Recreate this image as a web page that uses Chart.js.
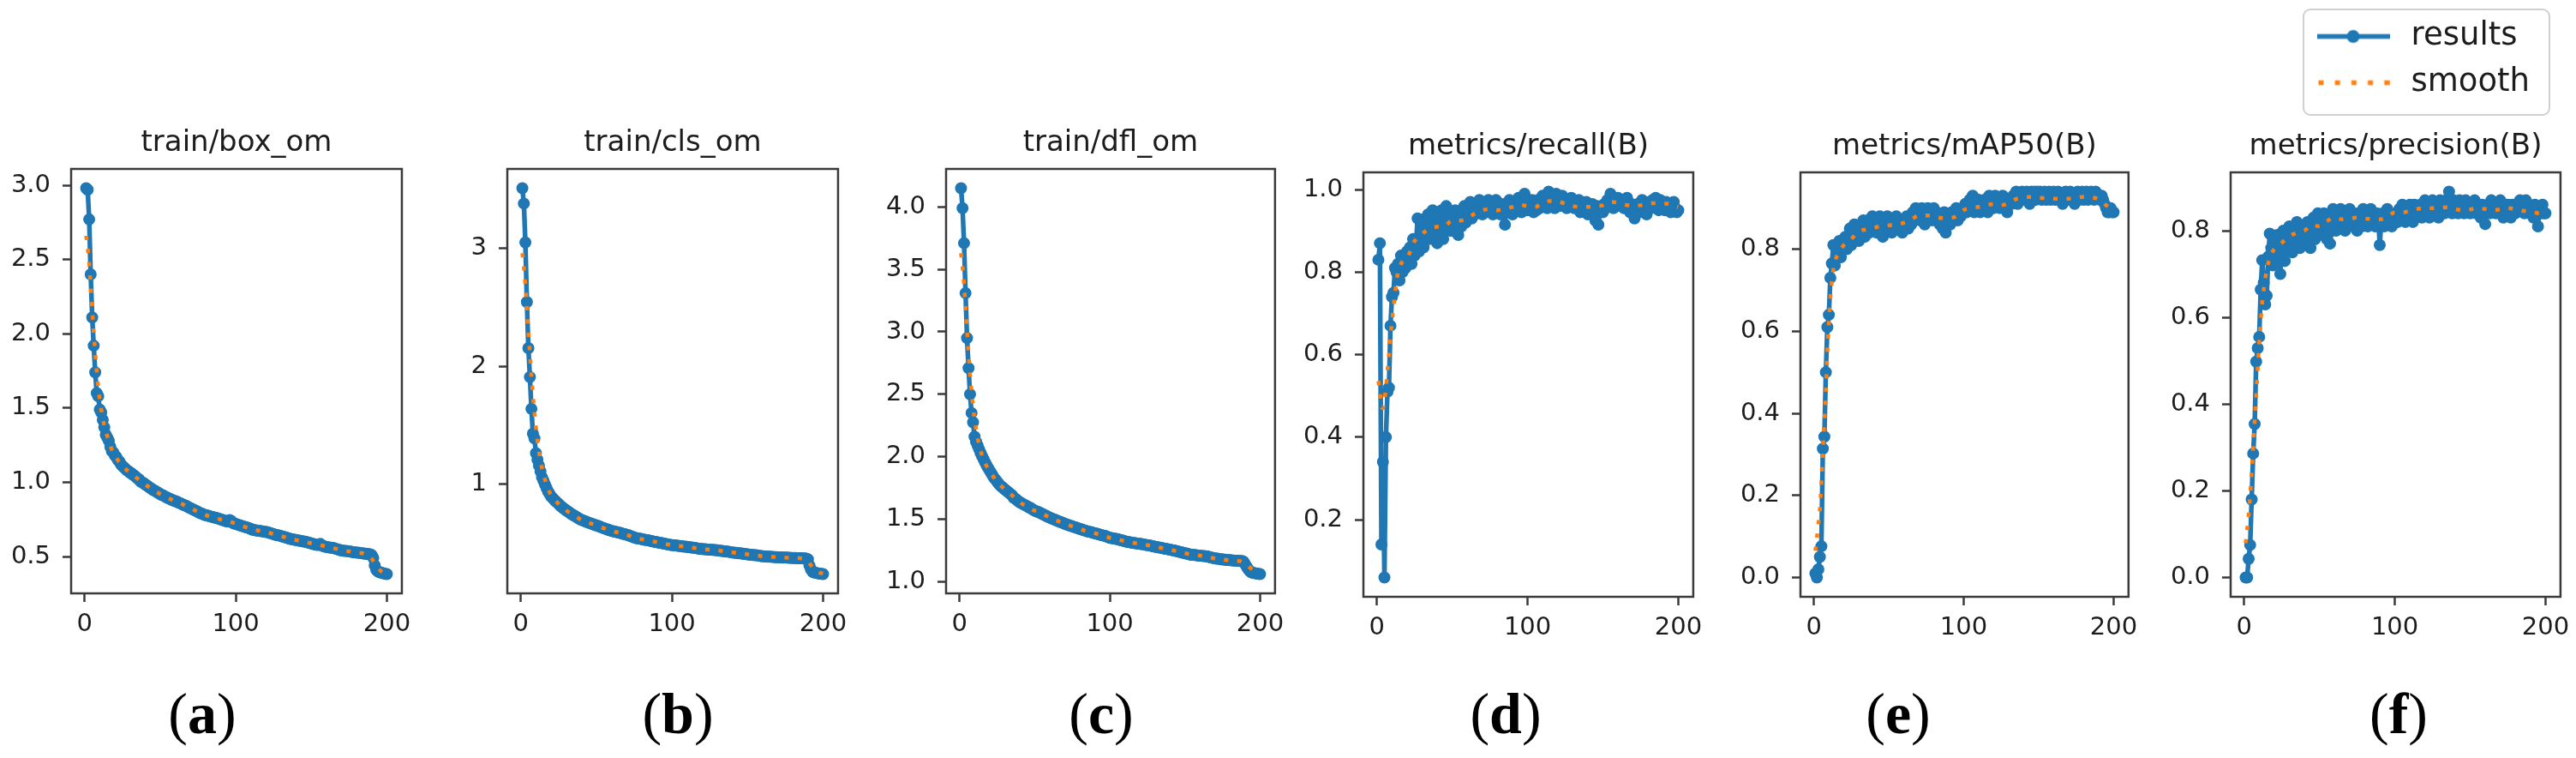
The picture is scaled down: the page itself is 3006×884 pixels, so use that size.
<!DOCTYPE html>
<html>
<head>
<meta charset="utf-8">
<script src="https://cdn.jsdelivr.net/npm/chart.js@4.4.1/dist/chart.umd.min.js"></script>
<style>
html,body{margin:0;padding:0;background:#ffffff;width:3006px;height:884px;overflow:hidden;position:relative;}
canvas{position:absolute;}
</style>
</head>
<body>
<script>
// ---------------- DATA ----------------
const epochs = Array.from({length: 200}, (_, i) => i + 1);
const smoothEpochs = [1,2,3,4,5,6,7,8,9,10,11,12,13,14,15,16,17,18,19,20,
  25,30,35,40,45,50,55,60,65,70,75,80,85,90,95,100,105,110,115,120,125,130,135,140,145,150,155,160,165,170,175,180,185,
  188,190,192,194,196,198,200];

const titles = ['train/box_om', 'train/cls_om', 'train/dfl_om', 'metrics/recall(B)', 'metrics/mAP50(B)', 'metrics/precision(B)'];
const panelLetters = ['a', 'b', 'c', 'd', 'e', 'f'];
const legendLabels = ['results', 'smooth'];

const xTicks = [0, 100, 200];
const boxTicks = [0.5, 1.0, 1.5, 2.0, 2.5, 3.0];
const clsTicks = [1, 2, 3];
const dflTicks = [1.0, 1.5, 2.0, 2.5, 3.0, 3.5, 4.0];
const recallTicks = [0.2, 0.4, 0.6, 0.8, 1.0];
const mapTicks = [0.0, 0.2, 0.4, 0.6, 0.8];
const precTicks = [0.0, 0.2, 0.4, 0.6, 0.8];

const boxOm = [
 2.98,2.97,2.77,2.40,2.11,1.92,1.74,1.60,1.58,1.49,
 1.47,1.42,1.37,1.32,1.30,1.28,1.24,1.21,1.20,1.18,
 1.17,1.15,1.14,1.12,1.11,1.10,1.09,1.08,1.075,1.065,
 1.06,1.05,1.045,1.035,1.025,1.02,1.005,1.0,0.995,0.985,
 0.98,0.972,0.965,0.958,0.951,0.945,0.94,0.933,0.928,0.92,
 0.915,0.911,0.905,0.90,0.894,0.89,0.886,0.88,0.877,0.873,
 0.87,0.864,0.86,0.856,0.85,0.845,0.842,0.836,0.83,0.826,
 0.82,0.816,0.81,0.806,0.80,0.795,0.79,0.787,0.782,0.779,
 0.776,0.774,0.77,0.768,0.765,0.763,0.76,0.757,0.754,0.75,
 0.747,0.744,0.74,0.737,0.735,0.745,0.74,0.726,0.722,0.72,
 0.716,0.713,0.71,0.706,0.703,0.70,0.697,0.694,0.69,0.686,
 0.681,0.679,0.677,0.675,0.673,0.672,0.67,0.669,0.667,0.666,
 0.663,0.66,0.657,0.654,0.651,0.648,0.645,0.643,0.641,0.638,
 0.635,0.632,0.629,0.626,0.622,0.619,0.617,0.615,0.613,0.611,
 0.609,0.607,0.605,0.603,0.601,0.60,0.597,0.594,0.591,0.588,
 0.585,0.582,0.58,0.578,0.578,0.585,0.575,0.57,0.567,0.565,
 0.563,0.561,0.56,0.558,0.556,0.553,0.55,0.547,0.544,0.541,
 0.539,0.538,0.538,0.536,0.535,0.533,0.531,0.529,0.528,0.527,
 0.526,0.525,0.523,0.521,0.52,0.519,0.518,0.516,0.515,0.51,
 0.49,0.44,0.41,0.40,0.395,0.392,0.389,0.386,0.384,0.382];

const clsOm = [
 3.51,3.38,3.05,2.545,2.155,1.91,1.64,1.43,1.39,1.265,
 1.21,1.16,1.11,1.06,1.03,1.0,0.97,0.94,0.92,0.898,
 0.885,0.87,0.858,0.846,0.835,0.82,0.81,0.80,0.79,0.78,
 0.772,0.764,0.752,0.745,0.738,0.73,0.722,0.714,0.706,0.70,
 0.695,0.69,0.685,0.68,0.675,0.67,0.666,0.662,0.656,0.652,
 0.648,0.643,0.638,0.633,0.628,0.624,0.62,0.614,0.61,0.606,
 0.603,0.60,0.597,0.593,0.59,0.588,0.583,0.58,0.577,0.573,
 0.57,0.565,0.56,0.555,0.55,0.546,0.543,0.541,0.539,0.536,
 0.533,0.531,0.529,0.527,0.524,0.521,0.518,0.515,0.512,0.51,
 0.507,0.505,0.503,0.50,0.498,0.495,0.492,0.49,0.487,0.485,
 0.484,0.483,0.482,0.48,0.478,0.476,0.474,0.473,0.472,0.471,
 0.469,0.467,0.465,0.463,0.461,0.459,0.457,0.455,0.453,0.452,
 0.451,0.45,0.449,0.448,0.447,0.446,0.445,0.444,0.443,0.442,
 0.44,0.438,0.436,0.434,0.432,0.431,0.43,0.428,0.426,0.424,
 0.422,0.42,0.419,0.417,0.416,0.415,0.413,0.411,0.409,0.407,
 0.405,0.403,0.402,0.401,0.40,0.399,0.397,0.395,0.393,0.391,
 0.39,0.389,0.388,0.388,0.387,0.386,0.385,0.384,0.383,0.382,
 0.381,0.381,0.38,0.38,0.379,0.379,0.378,0.378,0.377,0.377,
 0.376,0.376,0.375,0.375,0.374,0.374,0.373,0.372,0.371,0.365,
 0.313,0.28,0.26,0.255,0.25,0.248,0.246,0.244,0.242,0.24];

const dflOm = [
 4.15,3.99,3.71,3.31,2.95,2.71,2.50,2.35,2.275,2.16,
 2.12,2.09,2.06,2.03,2.005,1.98,1.955,1.93,1.91,1.89,
 1.87,1.85,1.83,1.816,1.80,1.785,1.77,1.76,1.75,1.74,
 1.73,1.72,1.71,1.70,1.69,1.67,1.665,1.655,1.645,1.635,
 1.63,1.622,1.615,1.61,1.603,1.596,1.59,1.583,1.575,1.568,
 1.562,1.56,1.555,1.548,1.542,1.536,1.53,1.524,1.518,1.512,
 1.507,1.502,1.497,1.492,1.487,1.482,1.477,1.473,1.468,1.463,
 1.458,1.454,1.45,1.446,1.442,1.438,1.434,1.43,1.426,1.422,
 1.418,1.414,1.41,1.406,1.402,1.40,1.397,1.394,1.39,1.387,
 1.384,1.381,1.378,1.373,1.37,1.368,1.365,1.36,1.355,1.35,
 1.348,1.347,1.345,1.342,1.339,1.336,1.333,1.33,1.327,1.323,
 1.32,1.317,1.315,1.313,1.311,1.309,1.307,1.305,1.303,1.302,
 1.30,1.298,1.296,1.294,1.292,1.29,1.288,1.284,1.281,1.279,
 1.277,1.275,1.273,1.27,1.268,1.265,1.263,1.26,1.258,1.256,
 1.253,1.25,1.248,1.245,1.242,1.239,1.236,1.233,1.23,1.227,
 1.224,1.221,1.218,1.215,1.215,1.213,1.212,1.21,1.208,1.207,
 1.206,1.205,1.204,1.202,1.2,1.197,1.194,1.191,1.188,1.185,
 1.184,1.183,1.181,1.179,1.177,1.176,1.174,1.173,1.172,1.171,
 1.17,1.169,1.168,1.167,1.167,1.166,1.165,1.164,1.16,1.14,
 1.12,1.10,1.085,1.075,1.07,1.068,1.066,1.064,1.062,1.06];

const recall = [
 0.83,0.87,0.14,0.34,0.06,0.40,0.51,0.52,0.67,0.74,
 0.75,0.81,0.80,0.82,0.78,0.84,0.80,0.83,0.81,0.85,
 0.82,0.86,0.82,0.88,0.84,0.87,0.93,0.85,0.92,0.90,
 0.86,0.93,0.89,0.94,0.88,0.91,0.95,0.90,0.92,0.87,
 0.93,0.89,0.95,0.88,0.92,0.96,0.91,0.94,0.90,0.93,
 0.91,0.95,0.92,0.89,0.94,0.91,0.93,0.96,0.92,0.94,
 0.94,0.97,0.93,0.95,0.94,0.96,0.95,0.975,0.95,0.94,
 0.965,0.945,0.96,0.975,0.95,0.965,0.94,0.96,0.975,0.945,
 0.96,0.94,0.965,0.95,0.915,0.96,0.945,0.975,0.95,0.94,
 0.965,0.95,0.96,0.98,0.955,0.945,0.97,0.99,0.96,0.95,
 0.97,0.955,0.975,0.945,0.96,0.95,0.975,0.955,0.97,0.985,
 0.96,0.975,0.955,0.995,0.97,0.96,0.98,0.955,0.99,0.97,
 0.96,0.975,0.985,0.96,0.97,0.955,0.975,0.96,0.98,0.965,
 0.955,0.97,0.96,0.975,0.945,0.96,0.965,0.955,0.97,0.94,
 0.96,0.945,0.965,0.95,0.925,0.96,0.915,0.95,0.96,0.945,
 0.965,0.955,0.975,0.96,0.99,0.97,0.955,0.975,0.96,0.98,
 0.97,0.96,0.975,0.955,0.965,0.98,0.96,0.945,0.965,0.955,
 0.93,0.955,0.965,0.945,0.96,0.975,0.95,0.965,0.94,0.96,
 0.97,0.955,0.975,0.96,0.98,0.965,0.95,0.975,0.96,0.965,
 0.95,0.97,0.96,0.965,0.945,0.955,0.97,0.955,0.945,0.95];

const mAP50 = [
 0.01,0.0,0.02,0.05,0.076,0.314,0.343,0.50,0.61,0.64,
 0.73,0.765,0.81,0.76,0.80,0.79,0.82,0.78,0.81,0.80,
 0.83,0.80,0.82,0.85,0.81,0.84,0.86,0.83,0.85,0.82,
 0.86,0.84,0.87,0.83,0.85,0.87,0.84,0.86,0.88,0.85,
 0.87,0.84,0.86,0.88,0.85,0.83,0.87,0.86,0.88,0.85,
 0.86,0.84,0.87,0.86,0.88,0.85,0.87,0.86,0.84,0.87,
 0.86,0.88,0.85,0.87,0.86,0.89,0.87,0.90,0.88,0.89,
 0.87,0.90,0.88,0.86,0.89,0.90,0.88,0.89,0.87,0.90,
 0.88,0.89,0.87,0.86,0.88,0.85,0.89,0.84,0.87,0.88,
 0.86,0.89,0.87,0.88,0.90,0.87,0.89,0.88,0.90,0.89,
 0.91,0.89,0.90,0.92,0.90,0.93,0.89,0.91,0.90,0.92,
 0.89,0.91,0.90,0.92,0.91,0.89,0.93,0.91,0.92,0.90,
 0.93,0.91,0.92,0.90,0.91,0.93,0.90,0.92,0.89,0.91,
 0.92,0.91,0.93,0.92,0.94,0.91,0.93,0.92,0.94,0.93,
 0.92,0.94,0.93,0.91,0.94,0.93,0.94,0.92,0.94,0.93,
 0.94,0.92,0.93,0.94,0.92,0.93,0.94,0.92,0.93,0.94,
 0.92,0.93,0.94,0.92,0.93,0.91,0.93,0.94,0.92,0.93,
 0.94,0.92,0.93,0.91,0.93,0.94,0.92,0.93,0.94,0.92,
 0.93,0.94,0.92,0.93,0.94,0.93,0.92,0.94,0.93,0.93,
 0.92,0.93,0.92,0.91,0.90,0.89,0.89,0.90,0.89,0.89];

const precision = [
 0.0,0.0,0.043,0.075,0.18,0.286,0.354,0.498,0.529,0.555,
 0.664,0.732,0.68,0.63,0.65,0.74,0.793,0.76,0.72,0.78,
 0.74,0.79,0.75,0.70,0.77,0.80,0.73,0.78,0.76,0.81,
 0.78,0.75,0.80,0.77,0.82,0.79,0.76,0.81,0.78,0.80,
 0.77,0.82,0.79,0.76,0.80,0.83,0.78,0.81,0.84,0.80,
 0.82,0.79,0.84,0.81,0.78,0.83,0.77,0.80,0.85,0.82,
 0.80,0.84,0.82,0.85,0.81,0.83,0.80,0.84,0.82,0.85,
 0.83,0.81,0.84,0.82,0.80,0.84,0.83,0.81,0.85,0.82,
 0.84,0.81,0.83,0.85,0.82,0.84,0.81,0.84,0.83,0.767,
 0.82,0.84,0.81,0.83,0.85,0.82,0.84,0.81,0.83,0.82,
 0.84,0.82,0.85,0.83,0.86,0.84,0.82,0.85,0.83,0.86,
 0.84,0.82,0.86,0.83,0.85,0.84,0.86,0.83,0.85,0.87,
 0.84,0.86,0.83,0.85,0.87,0.84,0.86,0.85,0.83,0.87,
 0.85,0.86,0.84,0.87,0.85,0.89,0.86,0.84,0.87,0.85,
 0.86,0.84,0.87,0.85,0.86,0.84,0.87,0.85,0.86,0.84,
 0.86,0.85,0.87,0.84,0.86,0.85,0.83,0.86,0.84,0.815,
 0.85,0.86,0.84,0.87,0.85,0.86,0.84,0.86,0.85,0.87,
 0.85,0.83,0.86,0.84,0.86,0.85,0.83,0.86,0.85,0.84,
 0.86,0.85,0.87,0.85,0.86,0.84,0.87,0.85,0.86,0.84,
 0.85,0.83,0.86,0.84,0.81,0.85,0.84,0.86,0.84,0.84];

// smooth curves, at smoothEpochs
const boxOmSmooth = [2.66,2.58,2.47,2.32,2.16,2.01,1.87,1.75,1.64,1.56,1.49,1.43,1.38,1.34,1.31,1.28,1.25,1.22,1.20,1.18,
 1.11,1.065,1.025,0.986,0.952,0.921,0.895,0.873,0.851,0.826,0.801,0.779,0.765,0.75,0.738,0.722,0.703,0.687,0.675,0.666,
 0.651,0.638,0.622,0.611,0.601,0.589,0.579,0.567,0.556,0.542,0.535,0.527,0.52,
 0.505,0.485,0.455,0.425,0.403,0.39,0.386];
const clsOmSmooth = [2.96,2.84,2.69,2.50,2.30,2.11,1.92,1.76,1.61,1.48,1.37,1.28,1.20,1.14,1.08,1.04,1.0,0.965,0.935,0.91,
 0.835,0.78,0.738,0.70,0.675,0.652,0.628,0.606,0.59,0.573,0.55,0.536,0.524,0.51,0.498,0.485,0.478,0.471,0.461,0.452,
 0.447,0.442,0.432,0.424,0.416,0.407,0.40,0.391,0.387,0.382,0.379,0.377,0.374,
 0.365,0.345,0.315,0.285,0.262,0.25,0.245];
const dflOmSmooth = [3.63,3.52,3.38,3.20,3.01,2.83,2.66,2.52,2.40,2.30,2.22,2.15,2.10,2.05,2.01,1.975,1.95,1.925,1.905,1.885,
 1.80,1.74,1.69,1.636,1.60,1.568,1.545,1.512,1.487,1.463,1.442,1.422,1.402,1.387,1.37,1.35,1.339,1.323,1.311,1.302,
 1.292,1.279,1.268,1.256,1.242,1.227,1.215,1.207,1.2,1.185,1.177,1.171,1.167,
 1.158,1.145,1.125,1.105,1.087,1.072,1.065];
const recallSmooth = [0.536,0.51,0.475,0.47,0.49,0.52,0.56,0.60,0.64,0.68,0.715,0.747,0.777,0.80,0.812,0.82,0.826,0.83,0.832,0.834,
 0.875,0.893,0.905,0.91,0.912,0.925,0.925,0.93,0.942,0.95,0.953,0.95,0.953,0.958,0.963,0.96,0.958,0.968,0.972,0.972,
 0.965,0.96,0.958,0.958,0.96,0.962,0.97,0.968,0.963,0.96,0.962,0.966,0.967,
 0.966,0.965,0.966,0.965,0.963,0.96,0.958];
const mAP50Smooth = [0.065,0.095,0.13,0.165,0.23,0.31,0.38,0.45,0.55,0.62,0.68,0.72,0.75,0.77,0.78,0.787,0.793,0.80,0.805,0.81,
 0.825,0.843,0.848,0.852,0.856,0.858,0.86,0.864,0.872,0.882,0.882,0.88,0.876,0.876,0.88,0.895,0.90,0.903,0.907,0.91,
 0.907,0.912,0.922,0.926,0.927,0.925,0.924,0.923,0.923,0.923,0.925,0.927,0.926,
 0.924,0.921,0.916,0.91,0.904,0.899,0.897];
const precisionSmooth = [0.079,0.11,0.145,0.19,0.245,0.30,0.36,0.42,0.48,0.54,0.59,0.635,0.665,0.69,0.71,0.725,0.735,0.745,0.752,0.758,
 0.772,0.787,0.795,0.80,0.813,0.81,0.822,0.83,0.826,0.828,0.83,0.828,0.827,0.826,0.832,0.842,0.842,0.846,0.85,0.852,
 0.852,0.853,0.854,0.85,0.847,0.849,0.852,0.85,0.847,0.849,0.852,0.85,0.846,
 0.845,0.843,0.842,0.841,0.84,0.84,0.84];

const resultsSeries = [boxOm, clsOm, dflOm, recall, mAP50, precision];
const smoothSeries = [boxOmSmooth, clsOmSmooth, dflOmSmooth, recallSmooth, mAP50Smooth, precisionSmooth];
const yTickSets = [boxTicks, clsTicks, dflTicks, recallTicks, mapTicks, precTicks];

// ---------------- LAYOUT (pixel geometry only) ----------------
const geom = [
  {L: 83,   T: 197, R: 469,  B: 692, lx: 236,  dec: 1},
  {L: 592,  T: 197, R: 978,  B: 692, lx: 791,  dec: 0},
  {L: 1104, T: 197, R: 1488, B: 692, lx: 1285, dec: 1},
  {L: 1591, T: 201, R: 1976, B: 696, lx: 1757, dec: 1},
  {L: 2101, T: 201, R: 2484, B: 696, lx: 2215, dec: 1},
  {L: 2603, T: 201, R: 2988, B: 696, lx: 2799, dec: 1}
];
const PAD_L = 80, PAD_R = 20, TOP_H = 75, BOT_H = 185;
const LABEL_BASELINE = 855;
const BLUE = '#1f77b4', ORANGE = '#ff7f0e';
const TEXT = '#1c1c1c', SPINE = '#3a3a3a';
const FONT = 'DejaVu Sans';

function makePanel(i) {
  const G = geom[i];
  const res = resultsSeries[i];
  const sm = smoothSeries[i];
  const W = (G.R - G.L) + PAD_L + PAD_R;
  const H = TOP_H + (G.B - G.T) + BOT_H;
  const cLeft = G.L - PAD_L, cTop = G.T - TOP_H;
  const cv = document.createElement('canvas');
  cv.width = W; cv.height = H;
  cv.style.left = cLeft + 'px'; cv.style.top = cTop + 'px';
  cv.style.width = W + 'px'; cv.style.height = H + 'px';
  document.body.appendChild(cv);

  const lo = Math.min(...res), hi = Math.max(...res), m = (hi - lo) * 0.05;
  const xlo = epochs[0], xhi = epochs[epochs.length - 1], mx = (xhi - xlo) * 0.05;
  const yt = yTickSets[i];
  const letter = panelLetters[i];

  const framePlugin = {
    id: 'frame',
    afterDraw(chart) {
      const a = chart.chartArea, ctx = chart.ctx;
      ctx.save();
      ctx.strokeStyle = SPINE; ctx.lineWidth = 2.5;
      ctx.strokeRect(a.left, a.top, a.right - a.left, a.bottom - a.top);
      // panel label "(x)" : parentheses regular, letter bold
      const y = LABEL_BASELINE - cTop;
      const cx = G.lx - cLeft;
      const reg = '68px "Liberation Serif"', bold = 'bold 68px "Liberation Serif"';
      ctx.fillStyle = '#000'; ctx.textBaseline = 'alphabetic'; ctx.textAlign = 'left';
      ctx.font = reg; const w1 = ctx.measureText('(').width, w3 = ctx.measureText(')').width;
      ctx.font = bold; const w2 = ctx.measureText(letter).width;
      let x = cx - (w1 + w2 + w3) / 2;
      ctx.font = reg; ctx.fillText('(', x, y); x += w1;
      ctx.font = bold; ctx.fillText(letter, x, y); x += w2;
      ctx.font = reg; ctx.fillText(')', x, y);
      ctx.restore();
    }
  };

  new Chart(cv, {
    type: 'line',
    data: {
      datasets: [
        {
          label: legendLabels[0],
          data: epochs.map((e, k) => ({x: e, y: res[k]})),
          borderColor: BLUE, backgroundColor: BLUE,
          borderWidth: 5.5, tension: 0,
          borderJoinStyle: 'round', borderCapStyle: 'round',
          pointRadius: 6.2, pointBorderWidth: 1.6,
          pointBackgroundColor: BLUE, pointBorderColor: BLUE,
          pointStyle: 'circle', order: 2
        },
        {
          label: legendLabels[1],
          data: smoothEpochs.map((e, k) => ({x: e, y: sm[k]})),
          borderColor: ORANGE, backgroundColor: ORANGE,
          borderWidth: 4.5, borderDash: [5, 10.5], borderCapStyle: 'butt',
          cubicInterpolationMode: 'monotone',
          pointRadius: 0, order: 1
        }
      ]
    },
    options: {
      responsive: false, animation: false, devicePixelRatio: 1, events: [],
      layout: {padding: {left: 0, right: PAD_R, top: 0, bottom: 0}, autoPadding: false},
      scales: {
        x: {
          type: 'linear', min: xlo - mx, max: xhi + mx,
          afterBuildTicks: s => { s.ticks = xTicks.map(v => ({value: v})); },
          afterFit: s => { s.height = BOT_H; },
          ticks: {color: TEXT, font: {family: FONT, size: 29}, padding: 9, maxRotation: 0, autoSkip: false,
                  callback: v => String(v)},
          grid: {display: true, drawOnChartArea: false, drawTicks: true, tickLength: 10, tickColor: SPINE, tickWidth: 2.5},
          border: {display: false}
        },
        y: {
          type: 'linear', min: lo - m, max: hi + m, beginAtZero: false,
          afterBuildTicks: s => { s.ticks = yt.map(v => ({value: v})); },
          afterFit: s => { s.width = PAD_L; },
          ticks: {color: TEXT, font: {family: FONT, size: 29}, padding: 14, autoSkip: false,
                  callback: v => Number(v).toFixed(G.dec)},
          grid: {display: true, drawOnChartArea: false, drawTicks: true, tickLength: 10, tickColor: SPINE, tickWidth: 2.5},
          border: {display: false}
        }
      },
      plugins: {
        legend: {display: false},
        tooltip: {enabled: false},
        title: {
          display: true, text: titles[i], fullSize: false, color: TEXT,
          font: {family: FONT, size: 34, weight: 'normal', lineHeight: 1.2},
          padding: {top: 25, bottom: 9.2}
        }
      }
    },
    plugins: [framePlugin]
  });
}

function makeLegend() {
  const W = 300, H = 130, left = 2680, top = 7;
  const cv = document.createElement('canvas');
  cv.width = W; cv.height = H;
  cv.style.left = left + 'px'; cv.style.top = top + 'px';
  cv.style.width = W + 'px'; cv.style.height = H + 'px';
  document.body.appendChild(cv);

  const imgR = document.createElement('canvas');
  imgR.width = 85; imgR.height = 20;
  let c = imgR.getContext('2d');
  c.strokeStyle = BLUE; c.lineWidth = 5.5;
  c.beginPath(); c.moveTo(0, 10); c.lineTo(85, 10); c.stroke();
  c.fillStyle = BLUE; c.beginPath(); c.arc(42.5, 10, 7.5, 0, Math.PI * 2); c.fill();

  const imgS = document.createElement('canvas');
  imgS.width = 85; imgS.height = 20;
  c = imgS.getContext('2d');
  c.strokeStyle = ORANGE; c.lineWidth = 5.5; c.setLineDash([6, 13.2]); c.lineCap = 'butt';
  c.beginPath(); c.moveTo(2, 10); c.lineTo(85, 10); c.stroke();

  const boxPlugin = {
    id: 'legendFrame',
    beforeDraw(chart) {
      const ctx = chart.ctx;
      ctx.save();
      ctx.fillStyle = 'rgba(255,255,255,0.85)';
      ctx.strokeStyle = '#d0d0d0'; ctx.lineWidth = 2;
      ctx.beginPath();
      ctx.roundRect(8, 4, 287, 123, 8);
      ctx.fill(); ctx.stroke();
      ctx.restore();
    }
  };

  new Chart(cv, {
    type: 'line',
    data: {datasets: []},
    options: {
      responsive: false, animation: false, devicePixelRatio: 1, events: [],
      layout: {padding: 0, autoPadding: false},
      scales: {x: {display: false}, y: {display: false}},
      plugins: {
        tooltip: {enabled: false},
        title: {display: false},
        legend: {
          display: true, position: 'top', align: 'start', maxHeight: 200,
          labels: {
            usePointStyle: true, pointStyleWidth: 98, padding: 17,
            color: TEXT, font: {family: FONT, size: 37},
            generateLabels: () => [
              {text: legendLabels[0], pointStyle: imgR, fillStyle: BLUE, strokeStyle: BLUE, fontColor: TEXT, lineWidth: 0, hidden: false},
              {text: legendLabels[1], pointStyle: imgS, fillStyle: ORANGE, strokeStyle: ORANGE, fontColor: TEXT, lineWidth: 0, hidden: false}
            ]
          }
        }
      }
    },
    plugins: [boxPlugin]
  });
}

for (let i = 0; i < 6; i++) makePanel(i);
makeLegend();
</script>
</body>
</html>
